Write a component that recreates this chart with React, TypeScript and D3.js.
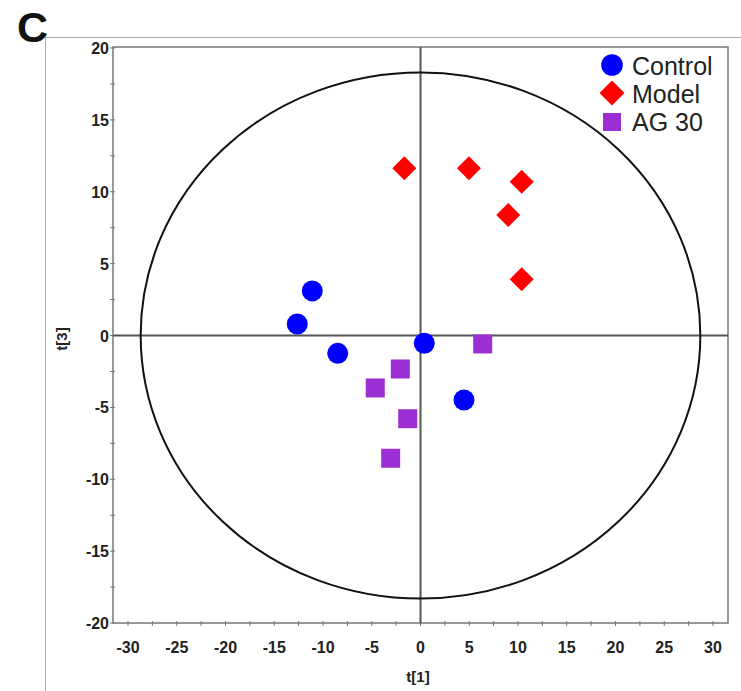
import React from "react";
import * as d3 from "d3";

const controlX = [-11.1, -12.64, -8.49, 0.39, 4.46];
const controlY = [3.1, 0.8, -1.24, -0.54, -4.49];
const modelX = [-1.66, 4.97, 10.38, 9.0, 10.38];
const modelY = [11.63, 11.63, 10.7, 8.38, 3.91];
const agX = [6.38, -2.07, -4.64, -1.31, -3.06];
const agY = [-0.59, -2.33, -3.65, -5.79, -8.54];
const xTicks = [-30, -25, -20, -15, -10, -5, 0, 5, 10, 15, 20, 25, 30];
const yTicks = [-20, -15, -10, -5, 0, 5, 10, 15, 20];
const ellipseRx = 28.7;
const ellipseRy = 18.3;
const legendLabels = ["Control", "Model", "AG 30"];

export default function App() {
  const x = d3.scaleLinear().domain([-30, 30]).range([128, 713]);
  const y = d3.scaleLinear().domain([-20, 20]).range([623, 48]);
  const left = 113, right = 728, top = 47, bottom = 623;
  const blue = "#0000ff", red = "#ff0000", purple = "#9b2fd4";
  const minorXv = d3.range(-30, 30.01, 2.5);
  const minorYv = d3.range(-20, 20.01, 2.5);
  const diamond = (cx: number, cy: number, h: number) =>
    `M${cx},${cy - h}L${cx + h},${cy}L${cx},${cy + h}L${cx - h},${cy}Z`;
  return (
    <svg width={741} height={691} style={{ position: "absolute", left: 0, top: 0 }} fontFamily="Arial, 'Liberation Sans', sans-serif">
      <rect width={741} height={691} fill="#fff" />
      <line x1={45} x2={741} y1={37.5} y2={37.5} stroke="#aaa" strokeWidth={1} />
      <line x1={45.5} x2={45.5} y1={37} y2={691} stroke="#aaa" strokeWidth={1} />
      <text x={17} y={42} fontSize={43} fontWeight="bold" fill="#111">C</text>
      <rect x={left} y={top} width={right - left} height={bottom - top} fill="none" stroke="#777" strokeWidth={1.5} />
      {minorXv.map((v, i) => (
        <line key={"tx" + i} x1={x(v)} x2={x(v)} y1={bottom - 2} y2={bottom + 3} stroke="#777" strokeWidth={1} />
      ))}
      {minorYv.map((v, i) => (
        <line key={"ty" + i} x1={left - 3} x2={left + 2} y1={y(v)} y2={y(v)} stroke="#777" strokeWidth={1} />
      ))}
      {xTicks.map((v) => (
        <text key={"lx" + v} x={x(v)} y={653} textAnchor="middle" fontSize={16} fontWeight="bold" fill="#222">{v}</text>
      ))}
      {yTicks.map((v) => (
        <text key={"ly" + v} x={109} y={y(v) + 6} textAnchor="end" fontSize={16} fontWeight="bold" fill="#222">{v}</text>
      ))}
      <text x={418} y={682} textAnchor="middle" fontSize={15} fontWeight="bold" fill="#222">t[1]</text>
      <text transform={`translate(67,339) rotate(-90)`} textAnchor="middle" fontSize={15} fontWeight="bold" fill="#222">t[3]</text>
      <line x1={left} x2={right} y1={y(0)} y2={y(0)} stroke="#555" strokeWidth={2} />
      <line x1={x(0)} x2={x(0)} y1={top} y2={bottom} stroke="#555" strokeWidth={2} />
      <ellipse cx={x(0)} cy={y(0)} rx={x(ellipseRx) - x(0)} ry={y(0) - y(ellipseRy)} fill="none" stroke="#111" strokeWidth={2} />
      {controlX.map((v, i) => (
        <circle key={"c" + i} cx={x(v)} cy={y(controlY[i])} r={10.5} fill={blue} />
      ))}
      {modelX.map((v, i) => (
        <path key={"m" + i} d={diamond(x(v), y(modelY[i]), 12)} fill={red} />
      ))}
      {agX.map((v, i) => (
        <rect key={"a" + i} x={x(v) - 9.5} y={y(agY[i]) - 9.5} width={19} height={19} fill={purple} />
      ))}
      <circle cx={612} cy={65} r={10.8} fill={blue} />
      <path d={diamond(612, 93, 12.5)} fill={red} />
      <rect x={603} y={113} width={18} height={18} fill={purple} />
      {legendLabels.map((t, i) => (
        <text key={t} x={632} y={75 + i * 28} fontSize={25} fill="#222">{t}</text>
      ))}
    </svg>
  );
}
